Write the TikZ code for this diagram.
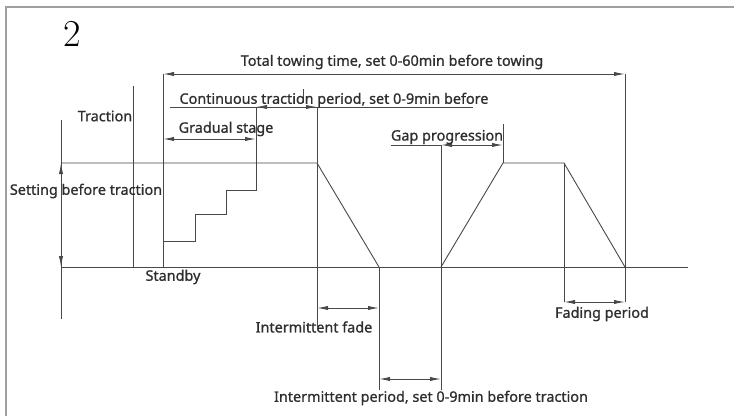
\documentclass[tikz,border=0pt]{standalone}
\usepackage{fontspec}
\newfontfamily\lab[FakeBold=0.9]{Noto Sans}
\usetikzlibrary{arrows.meta}
\definecolor{ink}{HTML}{484848}
\definecolor{frame}{HTML}{A0A0A0}
\tikzset{
  ln/.style={draw=ink, line width=0.9pt},
  dimarrow/.style={draw=ink, line width=0.9pt, {Latex[length=11pt,width=4.2pt]}-{Latex[length=11pt,width=4.2pt]}},
  lbl/.style={inner sep=0pt, font=\lab\fontsize{14.4}{16}\selectfont, text=black!82},
}
\begin{document}
\begin{tikzpicture}[x=1pt,y=-1pt]
\useasboundingbox (0,0) rectangle (734,416);
% frame
\draw[draw=frame, line width=2pt] (6,416) -- (6,7) -- (734,7);
% title number
\node[inner sep=0pt, font=\fontsize{38}{40}\selectfont] (num) at (72,34) {2};

% coordinates
\coordinate (sv0) at (61,120); \coordinate (sv1) at (61,319);
\coordinate (su) at (61,163); \coordinate (sd) at (61,267);
\coordinate (bend) at (688,267);
\coordinate (tr0) at (133,86); \coordinate (tr1) at (133,267);
\coordinate (a0) at (163,74); \coordinate (a1) at (163,267);
\coordinate (st0) at (163,241); \coordinate (st1) at (195,214);
\coordinate (st2) at (226,190); \coordinate (g0) at (256,107);
\coordinate (c0) at (317,107); \coordinate (c1) at (317,327);
\coordinate (ctop) at (317,163);
\coordinate (f0) at (379,267); \coordinate (f1) at (379,390);
\coordinate (p0) at (441,145); \coordinate (p1) at (441,390);
\coordinate (pb) at (441,267);
\coordinate (q0) at (503,124); \coordinate (q1) at (503,163);
\coordinate (r0) at (564,163); \coordinate (r1) at (564,302);
\coordinate (e0) at (625,74); \coordinate (e1) at (625,302);
\coordinate (eb) at (625,267);

% profile and extension lines
\draw[ln] (sv0) -- (sv1);
\draw[ln] (su) -- (ctop) -- (f0);
\draw[ln] (sd) -- (bend);
\draw[ln] (tr0) -- (tr1);
\draw[ln] (a0) -- (a1);
\draw[ln] (st0) -| (st1) -| (st2) -| (g0);
\draw[ln] (c0) -- (c1);
\draw[ln] (f0) -- (f1);
\draw[ln] (p0) -- (p1);
\draw[ln] (pb) -- (q1) -- (r0) -- (eb);
\draw[ln] (q0) -- (q1);
\draw[ln] (r0) -- (r1);
\draw[ln] (e0) -- (e1);
\coordinate (tk0) at (303,89); \coordinate (tk1) at (303,103);
\draw[ln] (tk0) -- (tk1);

% underlines
\coordinate (u0) at (170,107); \coordinate (u1) at (473,107);
\draw[ln] (u0) -- (u1);
\coordinate (gu0) at (391,145);
\draw[ln] (gu0) -- (p0);

% dimension arrows
\draw[dimarrow] (su) -- (sd);
\draw[dimarrow] (a0) -- (e0);
\draw[dimarrow] (g0) -- (c0);
\coordinate (gr0) at (163,139); \coordinate (gr1) at (256,139);
\draw[dimarrow] (gr0) -- (gr1);
\coordinate (gp1) at (503,145);
\draw[dimarrow] (p0) -- (gp1);
\coordinate (fd0) at (317,308); \coordinate (fd1) at (379,308);
\draw[dimarrow] (fd0) -- (fd1);
\coordinate (ip0) at (379,379); \coordinate (ip1) at (441,379);
\draw[dimarrow] (ip0) -- (ip1);
\draw[dimarrow] (r1) -- (e1);

% labels
\node[lbl] (total) at (392,62) {Total towing time, set 0-60min before towing};
\node[lbl] (cont) at (334,100) {Continuous traction period, set 0-9min before};
\node[lbl] (trac) at (105,116) {Traction};
\node[lbl] (grad) at (226,129) {Gradual stage};
\node[lbl] (gap) at (447,137) {Gap progression};
\node[lbl] (sett) at (86,191) {Setting before traction};
\node[lbl] (stby) at (173,277) {Standby};
\node[lbl] (ifade) at (314,327) {Intermittent fade};
\node[lbl] (fper) at (602,314) {Fading period};
\node[lbl] (iper) at (431,398) {Intermittent period, set 0-9min before traction};
\end{tikzpicture}
\end{document}
